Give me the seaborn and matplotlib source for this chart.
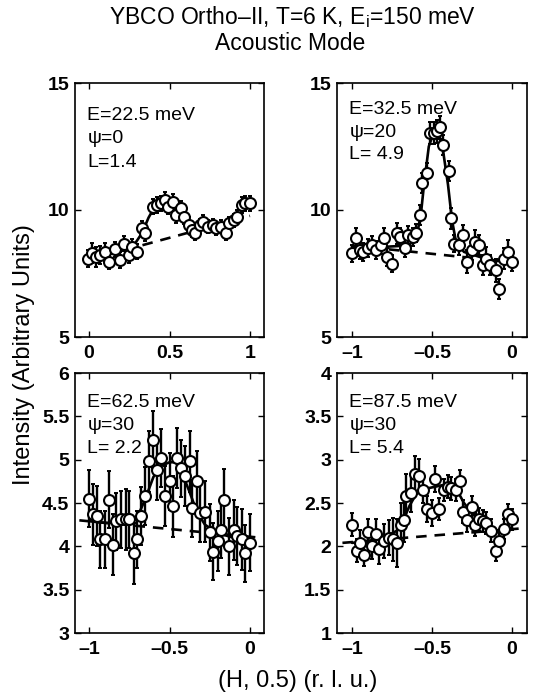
import numpy as np
import pandas as pd
import matplotlib
matplotlib.use("Agg")
import matplotlib.pyplot as plt
import seaborn as sns

sns.set_theme(style="white")
plt.rcParams['font.family'] = ['Liberation Sans', 'DejaVu Sans']
plt.rcParams['mathtext.fontset'] = 'custom'
plt.rcParams['mathtext.rm'] = 'Liberation Sans'

# ---------------- data ----------------
# Panel A: E=22.5 meV
a_x = [-0.006, 0.02, 0.046, 0.066, 0.098, 0.124, 0.16, 0.19, 0.22, 0.25, 0.27, 0.30, 0.33, 0.35,
       0.40, 0.42, 0.45, 0.47, 0.49, 0.52, 0.54, 0.57, 0.59, 0.62, 0.64, 0.66, 0.69, 0.71, 0.74,
       0.77, 0.79, 0.82, 0.85, 0.87, 0.90, 0.92, 0.95, 0.97, 1.0]
a_y = [8.09, 8.30, 8.16, 8.22, 8.36, 7.96, 8.45, 8.03, 8.68, 8.22, 8.55, 8.36, 9.28, 9.08,
       10.13, 10.2, 10.26, 10.4, 10.13, 10.33, 9.8, 10.07, 9.74, 9.41, 9.2, 9.08, 9.41, 9.54, 9.34,
       9.41, 9.28, 9.34, 9.08, 9.47, 9.6, 9.74, 10.2, 10.26, 10.26]
a_err = [0.35, 0.4, 0.4, 0.35, 0.35, 0.3, 0.3, 0.3, 0.3, 0.3, 0.3, 0.3, 0.3, 0.3,
         0.3, 0.3, 0.3, 0.3, 0.3, 0.3, 0.3, 0.3, 0.3, 0.3, 0.25, 0.25, 0.25, 0.25, 0.25,
         0.25, 0.25, 0.25, 0.25, 0.25, 0.25, 0.25, 0.3, 0.3, 0.3]
a_fit_x = [0.0, 0.1, 0.2, 0.28, 0.33, 0.37, 0.41, 0.45, 0.5, 0.55, 0.6, 0.65, 0.7, 0.8, 0.9, 0.95, 1.0]
a_fit_y = [8.1, 8.25, 8.4, 8.62, 9.1, 9.7, 10.15, 10.3, 10.25, 10.0, 9.6, 9.3, 9.35, 9.35, 9.6, 9.95, 10.25]
a_bg_x = [0.0, 1.0]
a_bg_y = [8.04, 9.77]

# Panel B: E=32.5 meV
b_x = [-1.0, -0.973, -0.95, -0.93, -0.90, -0.876, -0.85, -0.82, -0.80, -0.78, -0.75, -0.72, -0.70,
       -0.67, -0.65, -0.62, -0.60, -0.575, -0.56, -0.53, -0.51, -0.485, -0.47, -0.45, -0.43, -0.395,
       -0.38, -0.36, -0.33, -0.305, -0.28, -0.25, -0.23, -0.205, -0.18, -0.16, -0.135, -0.10, -0.08,
       -0.05, -0.025, 0.0]
b_y = [8.29, 8.88, 8.42, 8.36, 8.49, 8.64, 8.42, 8.62, 8.88, 8.16, 7.89, 9.08, 8.95,
       8.49, 9.01, 8.95, 9.08, 9.8, 11.05, 11.47, 13.03, 13.03, 13.1, 13.25, 12.57, 11.54,
       9.67, 8.68, 8.62, 9.01, 7.96, 8.42, 8.75, 8.62, 7.83, 8.09, 7.83, 7.63, 6.88,
       8.09, 8.36, 7.96]
b_err = [0.35, 0.4, 0.35, 0.35, 0.35, 0.35, 0.35, 0.35, 0.4, 0.35, 0.35, 0.4, 0.35,
         0.35, 0.35, 0.35, 0.35, 0.4, 0.4, 0.4, 0.45, 0.45, 0.45, 0.45, 0.4, 0.4,
         0.4, 0.35, 0.4, 0.4, 0.45, 0.4, 0.45, 0.4, 0.4, 0.45, 0.4, 0.45, 0.4,
         0.4, 0.45, 0.35]
b_fit_x = [-1.0, -0.8, -0.65, -0.6, -0.57, -0.55, -0.52, -0.49, -0.46, -0.43, -0.4, -0.375, -0.35,
           -0.3, -0.2, -0.1, 0.0]
b_fit_y = [8.55, 8.55, 8.6, 8.85, 9.8, 11.0, 12.5, 13.05, 13.05, 12.3, 11.0, 9.6, 8.75,
           8.35, 8.15, 8.0, 7.95]
b_bg_x = [-1.0, 0.0]
b_bg_y = [8.6, 7.95]

# Panel C: E=62.5 meV
c_x = [-1.0, -0.975, -0.95, -0.93, -0.90, -0.875, -0.85, -0.83, -0.80, -0.77, -0.75, -0.72, -0.70,
       -0.675, -0.65, -0.63, -0.60, -0.575, -0.55, -0.53, -0.50, -0.48, -0.455, -0.43, -0.405,
       -0.375, -0.36, -0.33, -0.31, -0.28, -0.25, -0.23, -0.20, -0.18, -0.16, -0.13, -0.10, -0.08,
       -0.05, -0.03, 0.0]
c_y = [4.55, 4.37, 4.35, 4.08, 4.08, 4.54, 4.02, 4.29, 4.31, 4.31, 4.31, 3.92, 4.08,
       4.35, 4.58, 4.98, 5.23, 4.88, 5.02, 4.58, 4.75, 4.46, 5.02, 4.9, 4.81,
       4.98, 4.44, 4.75, 4.38, 4.40, 4.16, 3.94, 4.06, 4.19, 4.54, 4.0, 4.19, 4.12,
       4.08, 3.92, 4.04]
c_err = [0.33, 0.35, 0.35, 0.33, 0.33, 0.33, 0.35, 0.33, 0.33, 0.35, 0.33, 0.35, 0.33,
         0.33, 0.33, 0.35, 0.33, 0.35, 0.33, 0.35, 0.33, 0.35, 0.35, 0.33, 0.35,
         0.35, 0.33, 0.35, 0.33, 0.35, 0.33, 0.33, 0.35, 0.33, 0.35, 0.33, 0.35, 0.33,
         0.35, 0.33, 0.33]
c_fit_x = [-1.0, -0.9, -0.8, -0.72, -0.68, -0.65, -0.6, -0.55, -0.5, -0.46, -0.43, -0.38, -0.33,
           -0.28, -0.2, -0.1, 0.0]
c_fit_y = [4.29, 4.27, 4.27, 4.3, 4.42, 4.55, 4.8, 4.93, 4.97, 4.97, 4.88, 4.65, 4.4,
           4.25, 4.15, 4.1, 4.07]
c_bg_x = [-1.06, 0.06]
c_bg_y = [4.3, 4.1]

# Panel D: E=87.5 meV
d_x = [-1.0, -0.97, -0.95, -0.925, -0.90, -0.875, -0.85, -0.83, -0.80, -0.77, -0.745, -0.72, -0.695,
       -0.675, -0.66, -0.63, -0.605, -0.58, -0.555, -0.53, -0.50, -0.48, -0.455, -0.425, -0.40,
       -0.38, -0.35, -0.325, -0.305, -0.28, -0.25, -0.23, -0.205, -0.18, -0.16, -0.13, -0.10, -0.08,
       -0.05, -0.025, 0.0]
d_y = [2.25, 1.95, 2.04, 1.90, 2.16, 2.0, 2.14, 1.97, 2.06, 2.10, 2.08, 2.04, 2.25,
       2.30, 2.58, 2.62, 2.84, 2.81, 2.65, 2.43, 2.39, 2.78, 2.43, 2.65, 2.69,
       2.67, 2.65, 2.75, 2.40, 2.30, 2.45, 2.25, 2.31, 2.29, 2.27, 2.18, 1.95, 2.06,
       2.2, 2.37, 2.31]
d_err = [0.13, 0.13, 0.15, 0.13, 0.15, 0.15, 0.17, 0.17, 0.2, 0.2, 0.25, 0.28, 0.25,
         0.25, 0.25, 0.22, 0.2, 0.2, 0.15, 0.15, 0.15, 0.15, 0.13, 0.13, 0.13,
         0.13, 0.13, 0.13, 0.13, 0.13, 0.13, 0.13, 0.13, 0.13, 0.13, 0.13, 0.12, 0.12,
         0.12, 0.12, 0.12]
d_fit_x = [-1.0, -0.9, -0.8, -0.72, -0.68, -0.64, -0.6, -0.55, -0.5, -0.45, -0.4, -0.35, -0.3,
           -0.25, -0.2, -0.15, -0.1, -0.05, 0.0]
d_fit_y = [2.04, 2.06, 2.1, 2.18, 2.3, 2.47, 2.6, 2.66, 2.68, 2.7, 2.72, 2.67, 2.5,
           2.38, 2.3, 2.22, 2.16, 2.18, 2.22]
d_bg_x = [-1.06, 0.08]
d_bg_y = [2.04, 2.21]

panels = [
    dict(x=a_x, y=a_y, e=a_err, fx=a_fit_x, fy=a_fit_y, bx=a_bg_x, by=a_bg_y,
         xlim=(-0.087, 1.087), ylim=(5, 15), xt=[0, 0.5, 1], xtl=['0', '0.5', '1'],
         yt=[5, 10, 15], ytl=['5', '10', '15'],
         lab=['E=22.5 meV', 'ψ=0', 'L=1.4'], ty=0.872, dy=0.092),
    dict(x=b_x, y=b_y, e=b_err, fx=b_fit_x, fy=b_fit_y, bx=b_bg_x, by=b_bg_y,
         xlim=(-1.094, 0.094), ylim=(5, 15), xt=[-1, -0.5, 0], xtl=['–1', '–0.5', '0'],
         yt=[5, 10, 15], ytl=['5', '10', '15'],
         lab=['E=32.5 meV', 'ψ=20', 'L= 4.9'], ty=0.895, dy=0.088),
    dict(x=c_x, y=c_y, e=c_err, fx=c_fit_x, fy=c_fit_y, bx=c_bg_x, by=c_bg_y,
         xlim=(-1.087, 0.087), ylim=(3, 6), xt=[-1, -0.5, 0], xtl=['–1', '–0.5', '0'],
         yt=[3, 3.5, 4, 4.5, 5, 5.5, 6], ytl=['3', '3.5', '4', '4.5', '5', '5.5', '6'],
         lab=['E=62.5 meV', 'ψ=30', 'L= 2.2'], ty=0.888, dy=0.09),
    dict(x=d_x, y=d_y, e=d_err, fx=d_fit_x, fy=d_fit_y, bx=d_bg_x, by=d_bg_y,
         xlim=(-1.094, 0.094), ylim=(1, 4), xt=[-1, -0.5, 0], xtl=['–1', '–0.5', '0'],
         yt=[1, 1.5, 2, 2.5, 3, 3.5, 4], ytl=['1', '1.5', '2', '2.5', '3', '3.5', '4'],
         lab=['E=87.5 meV', 'ψ=30', 'L= 5.4'], ty=0.888, dy=0.09),
]

W, H = 536, 694
fig = plt.figure(figsize=(W / 100, H / 100), dpi=100)
boxes = [(75, 83, 189, 254), (337, 83, 190, 254), (75, 373, 189, 260), (337, 373, 190, 260)]

for p, (l, t, w, h) in zip(panels, boxes):
    ax = fig.add_axes([l / W, 1 - (t + h) / H, w / W, h / H])
    ax.errorbar(p['x'], p['y'], yerr=p['e'], fmt='none', ecolor='black',
                elinewidth=1.7, capsize=1.6, capthick=1.4, zorder=2)
    sns.lineplot(x=p['bx'], y=p['by'], ax=ax, color='black', lw=1.9,
                 linestyle=(0, (4, 3)), zorder=3)
    sns.lineplot(x=p['fx'], y=p['fy'], ax=ax, color='black', lw=1.9, zorder=4)
    sns.scatterplot(x=p['x'], y=p['y'], ax=ax, marker='o', s=62,
                    facecolor='white', edgecolor='black', linewidth=1.5, zorder=5)
    ax.set_xlim(*p['xlim'])
    ax.set_ylim(*p['ylim'])
    ax.set_xticks(p['xt'])
    ax.set_xticklabels(p['xtl'])
    ax.set_yticks(p['yt'])
    ax.set_yticklabels(p['ytl'])
    ax.tick_params(direction='in', length=4, width=1, top=True, right=True,
                   bottom=True, left=True, labelsize=14, pad=4, color='black',
                   labelcolor='black')
    ax.tick_params(axis='x', pad=6)
    for lbl in ax.get_xticklabels() + ax.get_yticklabels():
        lbl.set_fontweight('bold')
    for s in ax.spines.values():
        s.set_color('black')
        s.set_linewidth(1.2)
    ax.set_facecolor('white')
    for i, txt in enumerate(p['lab']):
        ax.text(0.065, p['ty'] - i * p['dy'], txt, transform=ax.transAxes,
                fontsize=14, va='center', ha='left', color='black')

fig.text(293 / W, 1 - 17 / H, 'YBCO Ortho–II, T=6 K, E$_\\mathregular{i}$=150 meV',
         ha='center', va='center', fontsize=16.5, color='black')
fig.text(290 / W, 1 - 43 / H, 'Acoustic Mode', ha='center', va='center',
         fontsize=16.5, color='black')
fig.text(24 / W, 1 - 355 / H, 'Intensity (Arbitrary Units)', rotation=90,
         ha='center', va='center', fontsize=17, color='black')
fig.text(298 / W, 1 - 681 / H, '(H, 0.5) (r. l. u.)', ha='center', va='center',
         fontsize=17, color='black')

fig.savefig('out.png', dpi=100, facecolor='white')
